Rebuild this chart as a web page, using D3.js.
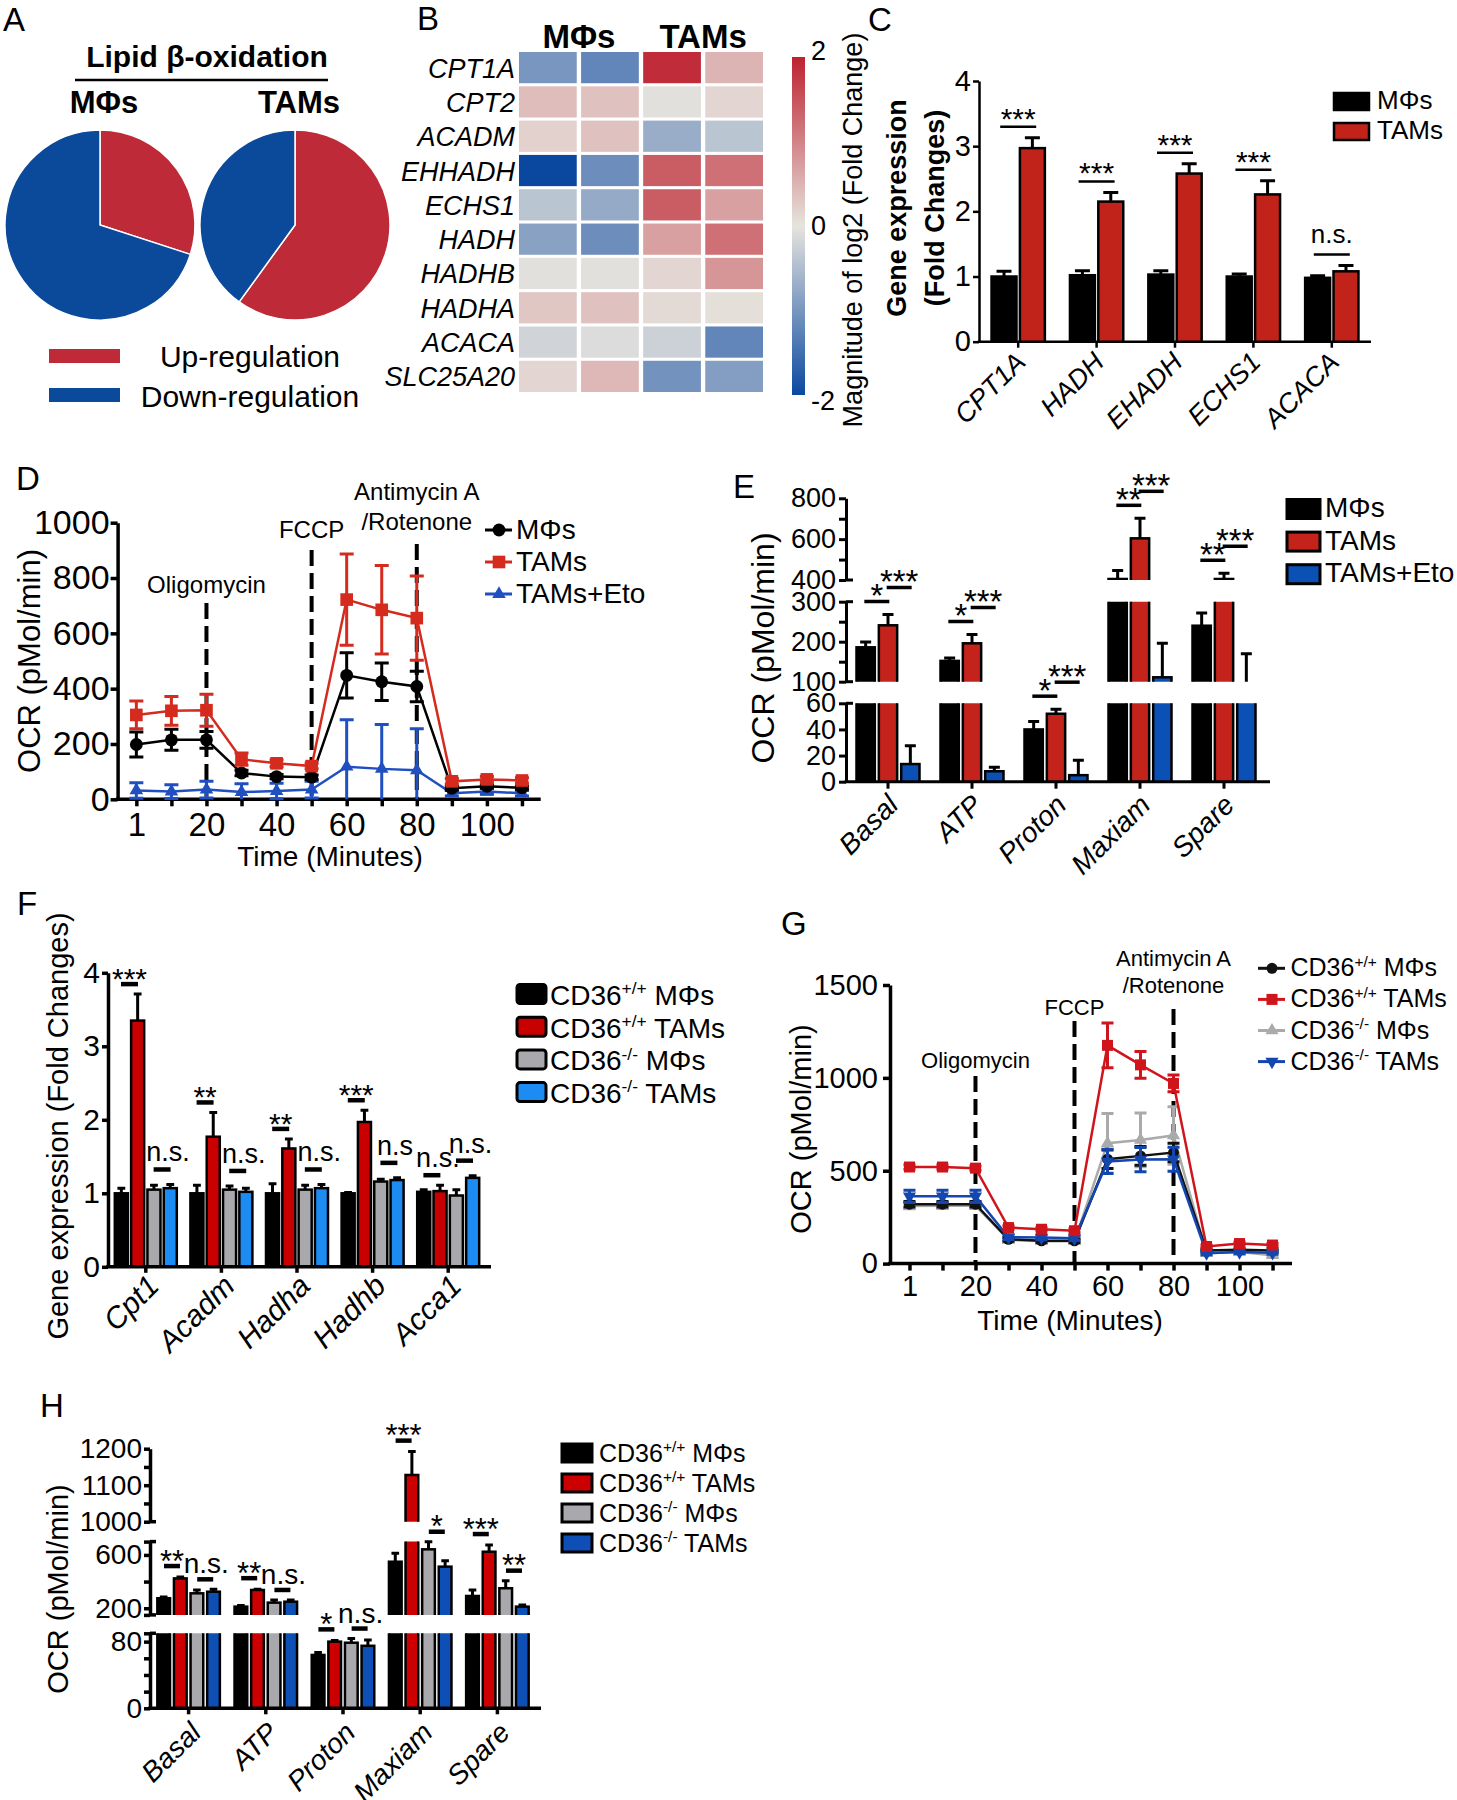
<!DOCTYPE html>
<html lang="en">
<head>
<meta charset="UTF-8">
<title>Lipid beta-oxidation in TAMs</title>
<script src="https://cdn.jsdelivr.net/npm/d3@7"></script>
<style>
  body { margin: 0; background: #fff; }
  svg { display: block; font-family: "Liberation Sans", Arial, sans-serif; }
  text { white-space: pre; }
</style>
</head>
<body>
<svg id="fig" width="1457" height="1800"></svg>
<script>
// ---------------- data ----------------
// A: share of lipid beta-oxidation genes up-regulated
const pieGroups = ['MΦs', 'TAMs'];
const pieUp = [0.3, 0.6];
const pieKeys = ['Up-regulation', 'Down-regulation'];

// B: log2 fold change, two replicates per group
const heatGenes = ['CPT1A', 'CPT2', 'ACADM', 'EHHADH', 'ECHS1', 'HADH', 'HADHB', 'HADHA', 'ACACA', 'SLC25A20'];
const heatGroups = ['MΦs', 'TAMs'];
const heatValues = [
  [-1.0, -1.2, 1.9, 0.5],
  [0.4, 0.35, -0.05, 0.15],
  [0.2, 0.35, -0.7, -0.4],
  [-2.0, -1.1, 1.4, 1.2],
  [-0.4, -0.75, 1.4, 0.7],
  [-0.85, -1.1, 0.7, 1.2],
  [-0.05, -0.05, 0.15, 0.8],
  [0.3, 0.35, 0.1, 0.05],
  [-0.2, -0.1, -0.25, -1.2],
  [0.15, 0.45, -1.05, -0.9]
];
const heatTicks = [2, 0, -2];

// C: gene expression (fold change)
const cGenes = ['CPT1A', 'HADH', 'EHADH', 'ECHS1', 'ACACA'];
const cGroups = ['MΦs', 'TAMs'];
const cMphi = [1.0, 1.02, 1.03, 1.0, 0.98];
const cMphiErr = [0.08, 0.07, 0.06, 0.04, 0.03];
const cTam = [2.97, 2.15, 2.58, 2.26, 1.08];
const cTamErr = [0.16, 0.14, 0.15, 0.21, 0.09];
const cSig = ['***', '***', '***', '***', 'n.s.'];

// D and G: OCR time course
const ocrTimes = [1, 10, 20, 30, 40, 50, 60, 70, 80, 90, 100, 110];
const ocrTickLabels = [1, 20, 40, 60, 80, 100];
const injectionTimes = [20, 50, 80];
const injectionNames = [['Oligomycin'], ['FCCP'], ['Antimycin A', '/Rotenone']];

const dGroups = ['MΦs', 'TAMs', 'TAMs+Eto'];
const dMphi = [198, 215, 215, 95, 82, 80, 448, 425, 408, 40, 47, 42];
const dMphiErr = [45, 38, 30, 10, 8, 8, 82, 68, 55, 6, 6, 6];
const dTam = [305, 320, 322, 145, 130, 120, 722, 685, 655, 65, 72, 68];
const dTamErr = [50, 52, 58, 22, 12, 10, 165, 160, 152, 10, 10, 10];
const dEto = [32, 28, 35, 26, 30, 35, 118, 110, 105, 22, 28, 22];
const dEtoErr = [28, 25, 30, 30, 28, 30, 170, 160, 150, 10, 10, 10];

// E: OCR parameters
const ocrParams = ['Basal', 'ATP', 'Proton', 'Maxiam', 'Spare'];
const eMphi = [186, 152, 40, 405, 240];
const eMphiErr = [13, 7, 6, 42, 32];
const eTam = [241, 196, 52, 604, 405];
const eTamErr = [27, 22, 3.5, 98, 28];
const eEto = [13.5, 8, 5, 111, 98];
const eEtoErr = [14, 3, 11.5, 85, 72];
const eSigTam = ['*', '*', '*', '**', '**'];
const eSigEto = ['***', '***', '***', '***', '***'];

// F: CD36 knockout gene expression
const cdGroups = [['CD36', '+/+', ' MΦs'], ['CD36', '+/+', ' TAMs'], ['CD36', '-/-', ' MΦs'], ['CD36', '-/-', ' TAMs']];
const fGenes = ['Cpt1', 'Acadm', 'Hadha', 'Hadhb', 'Acca1'];
const fWtMphi = [1.0, 1.0, 1.0, 1.0, 1.02];
const fWtMphiErr = [0.07, 0.11, 0.13, 0.01, 0.03];
const fWtTam = [3.35, 1.77, 1.61, 1.97, 1.03];
const fWtTamErr = [0.36, 0.33, 0.13, 0.16, 0.08];
const fKoMphi = [1.05, 1.05, 1.05, 1.16, 0.97];
const fKoMphiErr = [0.06, 0.05, 0.06, 0.03, 0.08];
const fKoTam = [1.07, 1.02, 1.07, 1.18, 1.21];
const fKoTamErr = [0.05, 0.05, 0.05, 0.03, 0.03];
const fSigWt = ['***', '**', '**', '***', 'n.s.'];
const fSigKo = ['n.s.', 'n.s.', 'n.s.', 'n.s', 'n.s.'];

// G: CD36 knockout OCR time course
const gWtMphi = [320, 320, 320, 131, 123, 123, 562, 580, 598, 70, 75, 70];
const gWtMphiErr = [15, 15, 15, 10, 10, 10, 50, 50, 50, 8, 8, 8];
const gWtTam = [520, 520, 514, 194, 185, 177, 1175, 1070, 970, 92, 108, 100];
const gWtTamErr = [12, 12, 12, 10, 10, 10, 120, 72, 45, 8, 8, 8];
const gKoMphi = [310, 312, 312, 128, 120, 120, 648, 666, 690, 56, 62, 45];
const gKoMphiErr = [15, 15, 15, 10, 10, 10, 160, 145, 155, 10, 10, 10];
const gKoTam = [362, 362, 362, 142, 140, 136, 550, 560, 562, 56, 62, 58];
const gKoTamErr = [33, 33, 33, 12, 12, 12, 65, 65, 65, 8, 8, 8];

// H: CD36 knockout OCR parameters
const hWtMphi = [275, 212, 64, 549, 292];
const hWtMphiErr = [10, 8, 3, 63, 45];
const hWtTam = [424, 337, 80, 1128, 624];
const hWtTamErr = [10, 6, 1.5, 64, 50];
const hKoMphi = [312, 242, 78.7, 642, 350];
const hKoMphiErr = [25, 20, 5, 57, 57];
const hKoTam = [324, 249, 75, 512, 212];
const hKoTamErr = [18, 12, 7, 45, 12];
const hSigWt = ['**', '**', '*', '***', '***'];
const hSigKo = ['n.s.', 'n.s.', 'n.s.', '*', '**'];

// ---------------- helpers ----------------
const svg = d3.select('#fig');
const defs = svg.append('defs');

function txt(x, y, s, size, o = {}) {
  const t = svg.append('text').attr('x', x).attr('y', y).attr('font-size', size)
    .attr('text-anchor', o.anchor || 'start').text(s);
  if (o.bold) t.attr('font-weight', 'bold');
  if (o.italic) t.attr('font-style', 'italic');
  if (o.rot) t.attr('transform', `rotate(${o.rot},${x},${y})`);
  return t;
}

function legendLabel(t, lab, size) {
  if (typeof lab === 'string') { t.text(lab); return; }
  t.append('tspan').text(lab[0]);
  t.append('tspan').attr('font-size', size * 0.62).attr('dy', -size * 0.38).text(lab[1]);
  t.append('tspan').attr('dy', size * 0.38).text(lab[2]);
}

function styleAxis(g, w, font) {
  g.attr('font-family', null).attr('font-size', font || null);
  g.selectAll('.domain, .tick line').attr('stroke', '#000').attr('stroke-width', w);
  g.selectAll('.tick text').attr('fill', '#000');
}

function boxLegend(c) {
  c.labels.forEach((lab, i) => {
    const cy = c.y0 + i * c.step;
    svg.append('rect').attr('x', c.x).attr('y', cy - c.h / 2).attr('width', c.w).attr('height', c.h)
      .attr('rx', c.rx || 0).attr('fill', c.colors[i]).attr('stroke', '#000').attr('stroke-width', c.sw);
    legendLabel(txt(c.tx, cy + c.dy, '', c.font), lab, c.font);
  });
}

// grouped bars, optionally on a broken y axis (several segments)
function barPanel(c) {
  const x0 = d3.scaleBand().domain(d3.range(c.cats.length)).range(c.xRange)
    .paddingInner(c.padIn).paddingOuter(c.padOut);
  const x1 = d3.scaleBand().domain(d3.range(c.means.length)).range([0, x0.bandwidth()])
    .paddingInner(c.barPad);
  const bw = x1.bandwidth();
  const cx = (j, i) => x0(j) + x1(i) + bw / 2;
  const segs = c.segs.map(s => d3.scaleLinear().domain(s.domain).range(s.range));
  const baseY = c.segs[0].range[0];
  const yAt = v => {
    let s = segs[0];
    segs.forEach(t => { if (v >= t.domain()[0]) s = t; });
    return s(Math.min(v, s.domain()[1]));
  };
  const width = c.xEnd - c.xRange[0];

  segs.forEach((s, k) => {
    const [lo, hi] = s.domain();
    const [yb, yt] = s.range();
    defs.append('clipPath').attr('id', `${c.id}b${k}`).append('rect')
      .attr('x', c.xRange[0]).attr('y', yt).attr('width', width).attr('height', yb - yt);
    defs.append('clipPath').attr('id', `${c.id}e${k}`).append('rect')
      .attr('x', c.xRange[0]).attr('y', yt - 4).attr('width', width).attr('height', yb - yt + 4);
    const gBar = svg.append('g').attr('clip-path', `url(#${c.id}b${k})`);
    const gErr = svg.append('g').attr('clip-path', `url(#${c.id}e${k})`);
    c.means.forEach((vals, i) => {
      const pts = vals.map((v, j) => ({ v, e: c.errs[i][j], j }));
      gBar.selectAll(null).data(pts.filter(d => d.v > lo)).join('rect')
        .attr('x', d => cx(d.j, i) - bw / 2).attr('y', d => s(d.v))
        .attr('width', bw).attr('height', d => yb + 6 - s(d.v))
        .attr('fill', c.colors[i]).attr('stroke', '#000').attr('stroke-width', c.barStroke);
      gErr.selectAll(null).data(pts.filter(d => d.v + d.e > lo && d.v < hi)).join('path')
        .attr('d', d => {
          const x = cx(d.j, i), y0 = s(d.v), y1 = s(d.v + d.e), w = bw * 0.3;
          return `M${x},${y0}V${y1}M${x - w},${y1}H${x + w}`;
        })
        .attr('fill', 'none').attr('stroke', '#000').attr('stroke-width', c.errStroke);
    });
  });

  c.segs.forEach((sc, k) => {
    const ag = svg.append('g').attr('transform', `translate(${c.xRange[0]},0)`)
      .call(d3.axisLeft(segs[k]).tickValues(sc.ticks).tickSize(c.tickLen).tickSizeOuter(0)
        .tickPadding(c.tickPad).tickFormat(v => sc.labels.includes(v) ? String(v) : ''));
    styleAxis(ag, c.axisW, c.tickFont);
    (sc.breaks || []).forEach(v => {
      svg.append('line').attr('x1', c.xRange[0]).attr('x2', c.xRange[0] + c.tickLen)
        .attr('y1', segs[k](v)).attr('y2', segs[k](v))
        .attr('stroke', '#000').attr('stroke-width', c.axisW);
    });
  });

  const xg = svg.append('g').attr('transform', `translate(0,${baseY})`)
    .call(d3.axisBottom(x0).tickSize(c.tickLen).tickSizeOuter(0).tickFormat(''));
  xg.select('.domain').attr('d', `M${c.xRange[0] - c.axisW / 2},0H${c.xEnd}`);
  styleAxis(xg, c.axisW);
  c.cats.forEach((cat, j) => txt(x0(j) + x0.bandwidth() / 2 + c.labDx, baseY + c.labDy, cat, c.labFont,
    { anchor: 'end', italic: true, rot: -45 }));

  c.sigs.forEach(sg => {
    const j = sg.j;
    const top = Math.min(yAt(c.means[sg.a][j] + c.errs[sg.a][j]), yAt(c.means[sg.b][j] + c.errs[sg.b][j]));
    const ly = top - sg.gap - (sg.level || 0) * c.sigStep;
    const mid = (cx(j, sg.a) + cx(j, sg.b)) / 2;
    svg.append('line').attr('x1', mid - c.sigHalf).attr('x2', mid + c.sigHalf)
      .attr('y1', ly).attr('y2', ly).attr('stroke', '#000').attr('stroke-width', c.sigW);
    if (sg.label.startsWith('n')) txt(mid + c.nsShift, ly - c.nsGap, sg.label, c.nsFont, { anchor: 'middle' });
    else txt(mid, ly + c.starDrop, sg.label, c.starFont, { anchor: 'middle' });
  });
}

// OCR time course with injection markers
function linePanel(c) {
  const x = d3.scalePoint().domain(c.times).range(c.xRange).padding(c.xPad);
  const y = d3.scaleLinear().domain(c.yDomain).range(c.yRange);
  const yg = svg.append('g').attr('transform', `translate(${c.xRange[0]},0)`)
    .call(d3.axisLeft(y).tickValues(c.yTicks).tickSize(7).tickSizeOuter(0).tickPadding(c.yPad)
      .tickFormat(d3.format('d')));
  styleAxis(yg, c.axisW, c.yFont);
  const xg = svg.append('g').attr('transform', `translate(0,${c.yRange[0]})`)
    .call(d3.axisBottom(x).tickSize(7).tickSizeOuter(0).tickPadding(c.xPadTxt)
      .tickFormat(t => c.tickLabels.includes(t) ? String(t) : ''));
  xg.select('.domain').attr('d', `M${c.xRange[0] - c.axisW / 2},0H${c.xRange[1]}`);
  styleAxis(xg, c.axisW, c.xFont);

  injectionTimes.forEach((t, k) => {
    svg.append('line').attr('x1', x(t)).attr('x2', x(t)).attr('y1', c.injTop[k]).attr('y2', c.yRange[0])
      .attr('stroke', '#000').attr('stroke-width', c.dashW).attr('stroke-dasharray', c.dash);
    const lines = injectionNames[k];
    lines.forEach((l, m) => txt(x(t), c.injLabelY[k] - (lines.length - 1 - m) * c.injLineH, l, c.injFont,
      { anchor: 'middle' }));
  });

  c.drawOrder.forEach(i => {
    const ser = c.series[i];
    const pts = ser.values.map((v, j) => ({ t: c.times[j], v, e: ser.errs[j] }));
    const g = svg.append('g');
    g.selectAll(null).data(pts).join('path')
      .attr('d', d => {
        const xx = x(d.t), ya = y(Math.max(0, d.v - d.e)), yb = y(d.v + d.e), w = c.capW / 2;
        return `M${xx},${ya}V${yb}M${xx - w},${yb}H${xx + w}` +
          (d.v - d.e > 0 ? `M${xx - w},${ya}H${xx + w}` : '');
      })
      .attr('fill', 'none').attr('stroke', ser.color).attr('stroke-width', c.errW);
    g.append('path').datum(pts).attr('d', d3.line().x(d => x(d.t)).y(d => y(d.v)))
      .attr('fill', 'none').attr('stroke', ser.color).attr('stroke-width', c.lineW);
    g.selectAll(null).data(pts).join('path')
      .attr('transform', d => `translate(${x(d.t)},${y(d.v)})` + (ser.flip ? ' rotate(180)' : ''))
      .attr('d', d3.symbol(ser.symbol, ser.size)).attr('fill', ser.color);
  });

  const L = c.legend;
  c.series.forEach((ser, i) => {
    const ly = L.y0 + i * L.step;
    svg.append('line').attr('x1', L.x1).attr('x2', L.x2).attr('y1', ly).attr('y2', ly)
      .attr('stroke', ser.color).attr('stroke-width', c.lineW + 0.5);
    svg.append('path').attr('transform', `translate(${L.mx},${ly})` + (ser.flip ? ' rotate(180)' : ''))
      .attr('d', d3.symbol(ser.symbol, ser.size)).attr('fill', ser.color);
    legendLabel(txt(L.tx, ly + L.dy, '', L.font), ser.label, L.font);
  });
}

// ---------------- A ----------------
txt(3, 31, 'A', 33);
txt(207, 67, 'Lipid β-oxidation', 30, { anchor: 'middle', bold: true });
svg.append('line').attr('x1', 75).attr('x2', 328).attr('y1', 80).attr('y2', 80)
  .attr('stroke', '#000').attr('stroke-width', 2.5);
const pieX = d3.scalePoint().domain(pieGroups).range([100, 295]);
const pieColor = d3.scaleOrdinal().domain(pieKeys).range(['#be2a37', '#0b4a9b']);
const pie = d3.pie().sort(null);
const pieArc = d3.arc().innerRadius(0).outerRadius(95);
pieGroups.forEach((grp, i) => {
  txt(pieX(grp) + 4, 113, grp, 31, { anchor: 'middle', bold: true });
  svg.append('g').attr('transform', `translate(${pieX(grp)},225)`)
    .selectAll('path').data(pie([pieUp[i], 1 - pieUp[i]])).join('path')
    .attr('d', pieArc).attr('fill', (d, k) => pieColor(pieKeys[k]))
    .attr('stroke', '#fff').attr('stroke-width', 1.5);
});
pieKeys.forEach((k, i) => {
  svg.append('rect').attr('x', 49).attr('y', 349 + i * 39).attr('width', 71).attr('height', 14)
    .attr('fill', pieColor(k));
  txt(250, 367 + i * 40, k, 30, { anchor: 'middle' });
});

// ---------------- B ----------------
txt(417, 30, 'B', 33);
const heatColor = d3.scaleLinear().domain([-2, 0, 2]).range(['#0a48a0', '#e6e4de', '#be2230']);
const hx = d3.scaleBand().domain(d3.range(4)).range([519, 763]).paddingInner(0.07);
const hy = d3.scaleBand().domain(heatGenes).range([52, 392]).paddingInner(0.09);
heatValues.forEach((row, r) => {
  svg.append('g').selectAll('rect').data(row).join('rect')
    .attr('x', (d, k) => hx(k)).attr('y', hy(heatGenes[r]))
    .attr('width', hx.bandwidth()).attr('height', hy.bandwidth())
    .attr('fill', d => heatColor(d));
});
heatGenes.forEach(g => txt(515, hy(g) + hy.bandwidth() / 2 + 10, g, 27, { anchor: 'end', italic: true }));
heatGroups.forEach((g, k) => txt((hx(2 * k) + hx(2 * k + 1) + hx.bandwidth()) / 2, 48, g, 33,
  { anchor: 'middle', bold: true }));
const grad = defs.append('linearGradient').attr('id', 'cbar')
  .attr('x1', 0).attr('y1', 1).attr('x2', 0).attr('y2', 0);
d3.range(-2, 2.01, 0.25).forEach(v => grad.append('stop').attr('offset', (v + 2) / 4).attr('stop-color', heatColor(v)));
const cbY = d3.scaleLinear().domain([-2, 2]).range([395, 57]);
svg.append('rect').attr('x', 792).attr('y', cbY(2)).attr('width', 13).attr('height', cbY(-2) - cbY(2))
  .attr('fill', 'url(#cbar)');
heatTicks.forEach(v => txt(811, cbY(v) - Math.sign(v) * 6, v, 27).attr('dy', '0.35em'));
txt(862, 230, 'Magnitude of log2 (Fold Change)', 27, { anchor: 'middle', rot: -90 });

// ---------------- C ----------------
txt(868, 31, 'C', 33);
barPanel({
  id: 'c', cats: cGenes, means: [cMphi, cTam], errs: [cMphiErr, cTamErr], colors: ['#000', '#c1231a'],
  xRange: [979, 1371], xEnd: 1371, padIn: 0.32, padOut: 0.16, barPad: 0.12,
  segs: [{ domain: [0, 4], range: [341.7, 81], ticks: [0, 1, 2, 3, 4], labels: [0, 1, 2, 3, 4] }],
  axisW: 2.5, tickLen: 6, tickPad: 2, tickFont: 29, barStroke: 2.5, errStroke: 3,
  labFont: 27, labDx: 9, labDy: 22,
  sigs: cSig.map((l, j) => ({ j, a: 0, b: 1, label: l, gap: 11 })),
  sigHalf: 18, sigW: 2.5, starFont: 30, nsFont: 26, starDrop: 2, nsGap: 11, nsShift: 0, sigStep: 0
});
txt(906, 208, 'Gene expression', 27, { anchor: 'middle', bold: true, rot: -90 });
txt(944, 208, '(Fold Changes)', 27, { anchor: 'middle', bold: true, rot: -90 });
boxLegend({ labels: cGroups, colors: ['#000', '#c1231a'], x: 1334, w: 35, h: 17, y0: 101.5, step: 30,
  sw: 2.5, tx: 1377, dy: 7, font: 26 });

// ---------------- D ----------------
txt(16, 490, 'D', 33);
linePanel({
  times: ocrTimes, tickLabels: ocrTickLabels, xRange: [117.6, 540.7], xPad: 0.535,
  yDomain: [0, 1000], yRange: [799.3, 522.7], yTicks: [0, 200, 400, 600, 800, 1000],
  axisW: 3.5, yFont: 34, xFont: 33, yPad: 1, xPadTxt: 6,
  injTop: [603, 550, 544], injLabelY: [593, 538, 530], injLineH: 30, injFont: 24,
  dashW: 4, dash: '16,7', capW: 14, lineW: 2.5, errW: 3,
  series: [
    { label: dGroups[0], values: dMphi, errs: dMphiErr, color: '#000', symbol: d3.symbolCircle, size: 130 },
    { label: dGroups[1], values: dTam, errs: dTamErr, color: '#d42b1e', symbol: d3.symbolSquare, size: 160 },
    { label: dGroups[2], values: dEto, errs: dEtoErr, color: '#1f4fc0', symbol: d3.symbolTriangle, size: 80 }
  ],
  drawOrder: [2, 0, 1],
  legend: { x1: 485, x2: 512, mx: 499, tx: 516, y0: 530, step: 32, dy: 8.5, font: 28 }
});
txt(330, 866, 'Time (Minutes)', 28, { anchor: 'middle' });
txt(40, 661, 'OCR (pMol/min)', 31, { anchor: 'middle', rot: -90 });

// ---------------- E ----------------
txt(733, 498, 'E', 33);
barPanel({
  id: 'e', cats: ocrParams, means: [eMphi, eTam, eEto], errs: [eMphiErr, eTamErr, eEtoErr],
  colors: ['#000', '#c4231b', '#0b50b5'],
  xRange: [846, 1266], xEnd: 1270, padIn: 0.25, padOut: 0.125, barPad: 0.18,
  segs: [
    { domain: [0, 60], range: [781.7, 703.3], ticks: [0, 20, 40, 60], labels: [0, 20, 40, 60], breaks: [60] },
    { domain: [100, 300], range: [681.7, 601.7], ticks: [100, 150, 200, 250, 300], labels: [100, 200, 300], breaks: [100, 300] },
    { domain: [400, 800], range: [580, 498.3], ticks: [400, 500, 600, 700, 800], labels: [400, 600, 800], breaks: [400] }
  ],
  axisW: 3, tickLen: 7, tickPad: 3, tickFont: 27, barStroke: 2.5, errStroke: 3,
  labFont: 28, labDx: 12, labDy: 25,
  sigs: eSigTam.map((l, j) => ({ j, a: 0, b: 1, label: l, gap: 13 }))
    .concat(eSigEto.map((l, j) => ({ j, a: 1, b: 2, label: l, gap: 13, level: 1 }))),
  sigHalf: 12.5, sigW: 3.5, starFont: 33, nsFont: 30, starDrop: 5.5, nsGap: 8, nsShift: 0, sigStep: 14
});
txt(774, 648, 'OCR (pMol/min)', 32, { anchor: 'middle', rot: -90 });
boxLegend({ labels: dGroups, colors: ['#000', '#c4231b', '#0b50b5'], x: 1287, w: 33, h: 19, y0: 509,
  step: 32.6, sw: 3, tx: 1325, dy: 8, font: 28 });

// ---------------- F ----------------
txt(17, 915, 'F', 33);
const fColors = ['#000', '#c80000', '#a9a9ad', '#1c8cf2'];
barPanel({
  id: 'f', cats: fGenes, means: [fWtMphi, fWtTam, fKoMphi, fKoTam],
  errs: [fWtMphiErr, fWtTamErr, fKoMphiErr, fKoTamErr], colors: fColors,
  xRange: [108, 486], xEnd: 491, padIn: 0.18, padOut: 0.09, barPad: 0.2,
  segs: [{ domain: [0, 4], range: [1266.8, 972.8], ticks: [0, 1, 2, 3, 4], labels: [0, 1, 2, 3, 4] }],
  axisW: 3.5, tickLen: 6, tickPad: 2, tickFont: 30, barStroke: 2.5, errStroke: 3,
  labFont: 30, labDx: 15, labDy: 21,
  sigs: fSigWt.map((l, j) => ({ j, a: 0, b: 1, label: l, gap: 10 }))
    .concat(fSigKo.map((l, j) => ({ j, a: 2, b: 3, label: l, gap: 15 }))),
  sigHalf: 8.5, sigW: 4.5, starFont: 30, nsFont: 27, starDrop: 5, nsGap: 8, nsShift: 6, sigStep: 0
});
txt(68, 1126, 'Gene expression (Fold Changes)', 29, { anchor: 'middle', rot: -90 });
boxLegend({ labels: cdGroups, colors: fColors, x: 517, w: 29, h: 19, rx: 3, y0: 994, step: 32.7,
  sw: 3, tx: 550, dy: 11, font: 28 });

// ---------------- G ----------------
txt(781, 935, 'G', 33);
linePanel({
  times: ocrTimes, tickLabels: ocrTickLabels, xRange: [890, 1292], xPad: 0.59,
  yDomain: [0, 1500], yRange: [1263.6, 985], yTicks: [0, 500, 1000, 1500],
  axisW: 3.5, yFont: 29, xFont: 29, yPad: 5, xPadTxt: 5,
  injTop: [1076, 1021, 1009], injLabelY: [1068, 1015, 993], injLineH: 26.6, injFont: 22,
  dashW: 4, dash: '16,7', capW: 12, lineW: 2.5, errW: 3,
  series: [
    { label: cdGroups[0], values: gWtMphi, errs: gWtMphiErr, color: '#111', symbol: d3.symbolCircle, size: 95 },
    { label: cdGroups[1], values: gWtTam, errs: gWtTamErr, color: '#d0141b', symbol: d3.symbolSquare, size: 121 },
    { label: cdGroups[2], values: gKoMphi, errs: gKoMphiErr, color: '#aaaaaa', symbol: d3.symbolTriangle, size: 75 },
    { label: cdGroups[3], values: gKoTam, errs: gKoTamErr, color: '#1446b0', symbol: d3.symbolTriangle, size: 75, flip: true }
  ],
  drawOrder: [2, 0, 3, 1],
  legend: { x1: 1258, x2: 1285, mx: 1272, tx: 1290.5, y0: 968.3, step: 31.1, dy: 8, font: 25 }
});
txt(1070, 1330, 'Time (Minutes)', 28, { anchor: 'middle' });
txt(811, 1129, 'OCR (pMol/min)', 29, { anchor: 'middle', rot: -90 });

// ---------------- H ----------------
txt(40, 1417, 'H', 33);
const hColors = ['#000', '#cc0000', '#a9a9ad', '#0d4fb5'];
barPanel({
  id: 'h', cats: ocrParams, means: [hWtMphi, hWtTam, hKoMphi, hKoTam],
  errs: [hWtMphiErr, hWtTamErr, hKoMphiErr, hKoTamErr], colors: hColors,
  xRange: [150, 536], xEnd: 541, padIn: 0.19, padOut: 0.095, barPad: 0.235,
  segs: [
    { domain: [0, 90], range: [1708.3, 1633.3], ticks: [0, 20, 40, 60, 80, 90], labels: [0, 80], breaks: [90] },
    { domain: [150, 700], range: [1614.9, 1541.6], ticks: [150, 200, 400, 600, 700], labels: [200, 600], breaks: [150, 700] },
    { domain: [1000, 1200], range: [1521.7, 1448.7], ticks: [1000, 1050, 1100, 1150, 1200], labels: [1000, 1100, 1200], breaks: [1000] }
  ],
  axisW: 3.5, tickLen: 6, tickPad: 2, tickFont: 28, barStroke: 2.5, errStroke: 3,
  labFont: 28, labDx: 14, labDy: 26,
  sigs: hSigWt.map((l, j) => ({ j, a: 0, b: 1, label: l, gap: 11 }))
    .concat(hSigKo.map((l, j) => ({ j, a: 2, b: 3, label: l, gap: 10 }))),
  sigHalf: 8, sigW: 4.5, starFont: 31, nsFont: 28, starDrop: 5.5, nsGap: 6, nsShift: 1, sigStep: 0
});
txt(68, 1589, 'OCR (pMol/min)', 29, { anchor: 'middle', rot: -90 });
boxLegend({ labels: cdGroups, colors: hColors, x: 562, w: 30, h: 18, y0: 1453, step: 30,
  sw: 3, tx: 599, dy: 8.5, font: 25 });
</script>
</body>
</html>
